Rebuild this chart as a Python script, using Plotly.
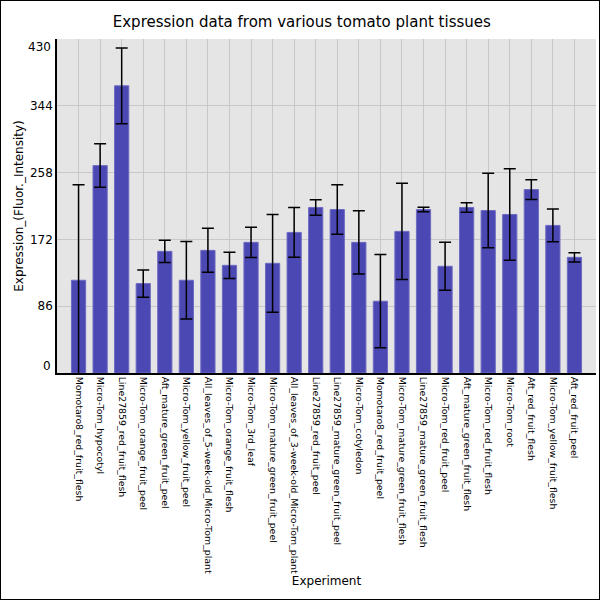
import plotly.graph_objects as go

categories = [
    "Momotaro8_red_fruit_flesh", "Micro-Tom_hypocotyl", "Line27859_red_fruit_flesh",
    "Micro-Tom_orange_fruit_peel", "Aft_mature_green_fruit_peel", "Micro-Tom_yellow_fruit_peel",
    "All_leaves_of_5-week-old_Micro-Tom_plant", "Micro-Tom_orange_fruit_flesh", "Micro-Tom_3rd_leaf",
    "Micro-Tom_mature_green_fruit_peel", "All_leaves_of_3-week-old_Micro-Tom_plant", "Line27859_red_fruit_peel",
    "Line27859_mature_green_fruit_peel", "Micro-Tom_cotyledon", "Momotaro8_red_fruit_peel",
    "Micro-Tom_mature_green_fruit_flesh", "Line27859_mature_green_fruit_flesh", "Micro-Tom_red_fruit_peel",
    "Aft_mature_green_fruit_flesh", "Micro-Tom_red_fruit_flesh", "Micro-Tom_root",
    "Aft_red_fruit_flesh", "Micro-Tom_yellow_fruit_flesh", "Aft_red_fruit_peel",
]
values = [119.4, 267.0, 369.7, 115.1, 156.6, 119.4, 157.9, 138.6, 168.2, 141.2, 181.0, 213.1,
          210.5, 168.2, 92.4, 182.3, 210.5, 137.4, 213.1, 209.2, 204.1, 236.2, 190.0, 148.9]
errors = [123.0, 28.0, 48.8, 17.5, 14.3, 50.0, 28.3, 17.0, 19.5, 63.0, 32.0, 10.0,
          32.0, 40.6, 60.0, 62.0, 3.0, 31.0, 6.0, 48.0, 59.0, 12.7, 21.0, 6.0]
y_ticks = [0, 86, 172, 258, 344, 430]

L, R, T, B = 57, 4, 39, 227
W, H = 600, 600
pw, ph = W - L - R, H - T - B

fig = go.Figure()
fig.add_trace(go.Bar(
    x=list(range(len(categories))), y=values,
    width=0.66,
    marker=dict(color="#4B47B3", line=dict(color="#6E6BC2", width=1)),
    error_y=dict(type="data", array=errors, visible=True, color="black", thickness=1.5, width=6),
))

fig.update_layout(
    width=W, height=H,
    margin=dict(l=L, r=R, t=T, b=B, pad=0),
    paper_bgcolor="white", plot_bgcolor="#E5E5E5",
    font=dict(family="DejaVu Sans", color="black"),
    showlegend=False,
    title=dict(text="Expression data from various tomato plant tissues", x=0.503, xanchor="center",
               y=1 - 21.7 / H, yanchor="middle", font=dict(size=15, family="DejaVu Sans")),
    xaxis=dict(
        range=[-1, 24], tickmode="array", tickvals=list(range(len(categories))), ticktext=categories,
        tickangle=90, tickfont=dict(size=9.4, family="DejaVu Sans", color="black"),
        showgrid=True, gridcolor="#C8C8C8", gridwidth=1,
        showline=True, linecolor="black", linewidth=1.5, ticks="", ticklen=0,
        title=dict(text="Experiment", font=dict(size=12), standoff=0),
        zeroline=False, automargin=False,
    ),
    yaxis=dict(
        range=[0, 430], tickmode="array", tickvals=y_ticks,
        ticktext=["", "86", "172", "258", "344", ""],
        tickfont=dict(size=12, family="DejaVu Sans", color="black"),
        showgrid=True, gridcolor="#C8C8C8", gridwidth=1,
        showline=True, linecolor="black", linewidth=1.5, ticks="",
        title=dict(text="Expression_(Fluor._Intensity)", font=dict(size=12), standoff=4),
        zeroline=False, automargin=False,
    ),
)

# end tick labels shifted inward as in the reference
for v, shift in ((y_ticks[0], 7), (y_ticks[-1], -8)):
    fig.add_annotation(x=0, xref="paper", xanchor="right", xshift=-4,
                       y=v, yref="y", yanchor="middle", yshift=shift,
                       text=str(v), showarrow=False, font=dict(size=12, family="DejaVu Sans"))

# outer figure border
fig.add_shape(type="rect", xref="paper", yref="paper",
              x0=-L / pw, x1=1 + R / pw, y0=-B / ph, y1=1 + T / ph,
              line=dict(color="black", width=2), layer="above")

fig.write_html("out.html", config={"displayModeBar": False},
               post_script="document.body.style.margin='0';document.body.style.padding='0';")
